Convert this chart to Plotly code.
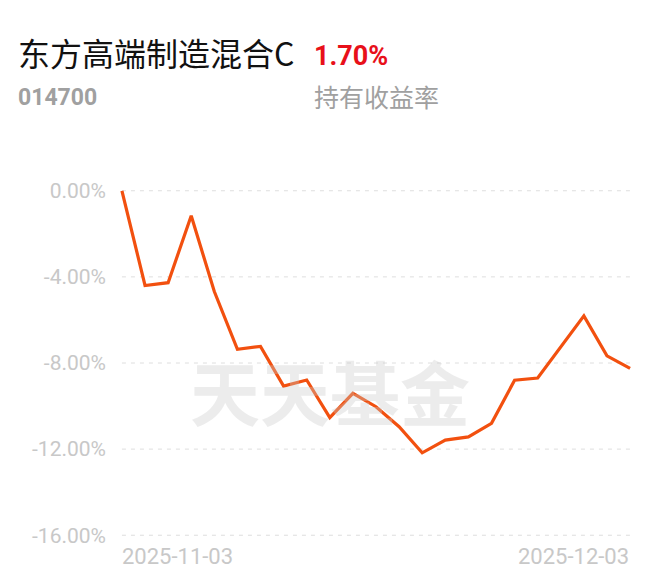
import plotly.graph_objects as go

dates = ["2025-11-03", "2025-11-04", "2025-11-05", "2025-11-06", "2025-11-07",
         "2025-11-10", "2025-11-11", "2025-11-12", "2025-11-13", "2025-11-14",
         "2025-11-17", "2025-11-18", "2025-11-19", "2025-11-20", "2025-11-21",
         "2025-11-24", "2025-11-25", "2025-11-26", "2025-11-27", "2025-11-28",
         "2025-12-01", "2025-12-02", "2025-12-03"]
returns = [0.00, -4.40, -4.27, -1.16, -4.68, -7.36, -7.23, -9.07, -8.79, -10.54,
           -9.41, -10.03, -10.96, -12.17, -11.58, -11.43, -10.80, -8.80, -8.70,
           -7.25, -5.81, -7.67, -8.25]
ytick_vals = [0, -4, -8, -12, -16]
ytick_text = ["0.00%", "-4.00%", "-8.00%", "-12.00%", "-16.00%"]

fund_name = "东方高端制造混合C"
fund_code = "014700"
hold_return = "1.70%"
hold_label = "持有收益率"
watermark = "天天基金"

W, H = 660, 585
OFF = 8  # page body offset
ML, MR, MT, MB = 107, 31, 172, 47
PW, PH = W - ML - MR, H - MT - MB


def px(x):
    return (x - OFF - ML) / PW


def py(y):
    return (H - MB - (y - OFF)) / PH


fig = go.Figure()

for v in ytick_vals:
    fig.add_shape(type="line", xref="x", yref="y", x0=dates[0], x1=dates[-1],
                  y0=v, y1=v, line=dict(color="#dedede", width=1, dash="4px,5px"),
                  layer="below")

fig.add_trace(go.Scatter(
    x=dates, y=returns, mode="lines",
    line=dict(color="#F2500F", width=3.2),
    showlegend=False, cliponaxis=False, hoverinfo="skip",
))

ann = [
    dict(xref="paper", yref="paper", x=px(120), y=py(556), xanchor="left", yanchor="middle",
         text=dates[0], showarrow=False,
         font=dict(family="Roboto", size=22, color="#c8c8c8")),
    dict(xref="paper", yref="paper", x=px(631), y=py(556), xanchor="right", yanchor="middle",
         text=dates[-1], showarrow=False,
         font=dict(family="Roboto", size=22, color="#c8c8c8")),
    dict(xref="paper", yref="paper", x=px(16), y=py(52), xanchor="left", yanchor="middle",
         text=fund_name, showarrow=False,
         font=dict(family="Noto Sans CJK SC", size=32, color="#111111")),
    dict(xref="paper", yref="paper", x=px(312), y=py(56), xanchor="left", yanchor="middle",
         text="<b>" + hold_return + "</b>", showarrow=False,
         font=dict(family="Roboto", size=27, color="#E8101A")),
    dict(xref="paper", yref="paper", x=px(16), y=py(97), xanchor="left", yanchor="middle",
         text="<b>" + fund_code + "</b>", showarrow=False,
         font=dict(family="Roboto", size=23, color="#a0a0a0")),
    dict(xref="paper", yref="paper", x=px(312), y=py(96), xanchor="left", yanchor="middle",
         text=hold_label, showarrow=False,
         font=dict(family="Noto Sans CJK SC", size=25, color="#a0a0a0")),
    dict(xref="paper", yref="paper", x=px(330), y=py(390), xanchor="center",
         yanchor="middle", text="<b>" + watermark + "</b>", showarrow=False,
         font=dict(family="Noto Sans CJK SC", size=70, color="rgba(200,200,200,0.35)")),
]

fig.update_layout(
    width=W, height=H,
    margin=dict(l=ML, r=MR, t=MT, b=MB),
    paper_bgcolor="white", plot_bgcolor="white",
    xaxis=dict(type="category", categoryorder="array", categoryarray=dates,
               range=[-0.3, len(dates) - 0.7], showgrid=False, zeroline=False,
               showticklabels=False, showline=False, fixedrange=True),
    yaxis=dict(range=[-16.5, 0.5], tickvals=ytick_vals, ticktext=ytick_text,
               showgrid=False, zeroline=False, showline=False, ticks="",
               tickfont=dict(family="Roboto", size=21, color="#c8c8c8"),
               ticklabelstandoff=8),
    annotations=ann,
)

fig.write_html("out.html")
